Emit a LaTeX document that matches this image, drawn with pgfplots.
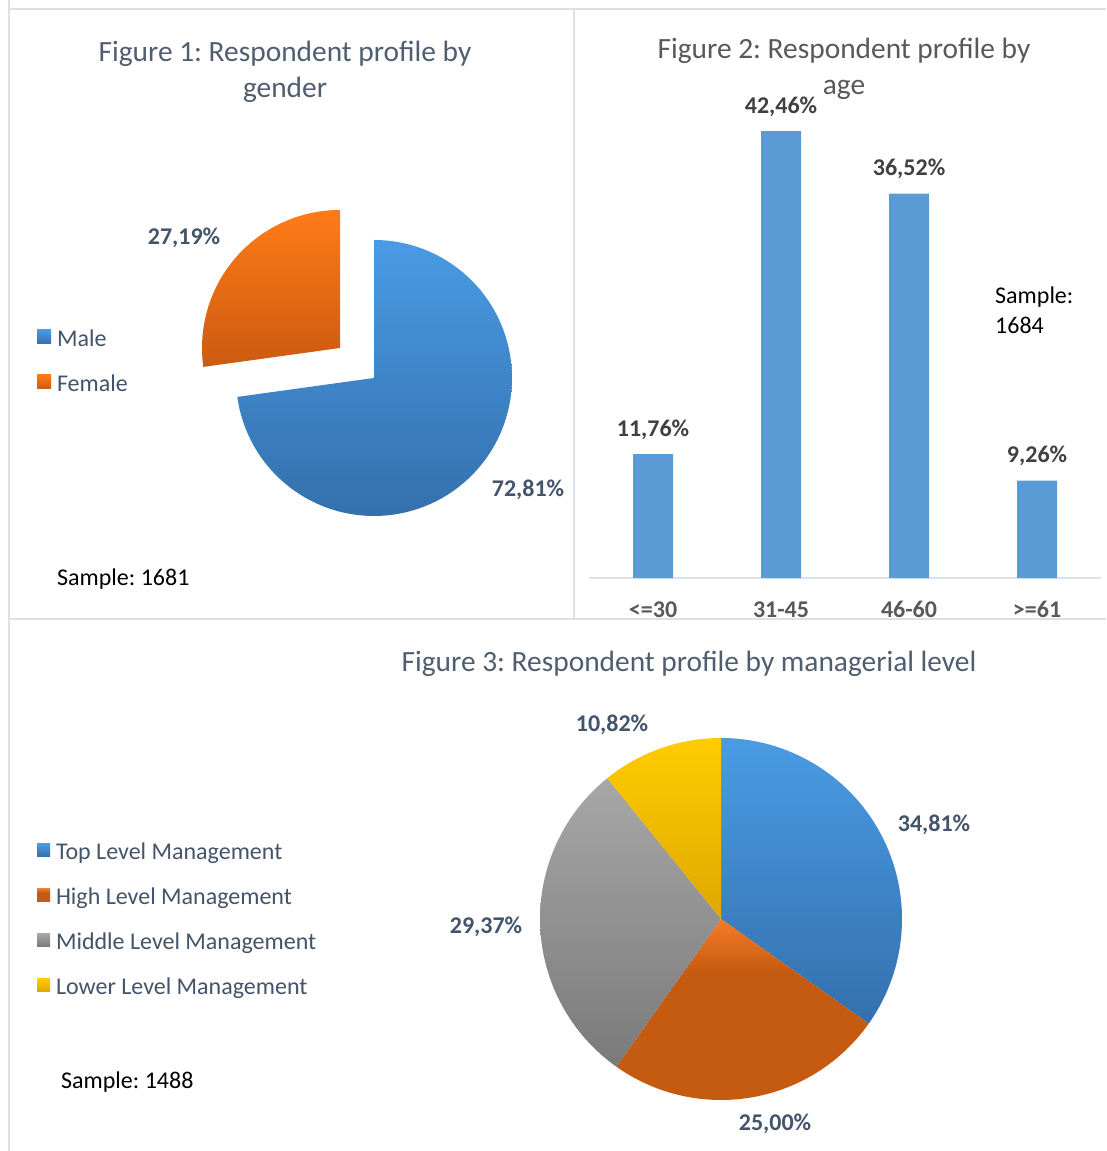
\documentclass[border=0pt]{standalone}
\usepackage{pgfplots}
\pgfplotsset{compat=1.18}
\usepackage{fontspec}
\setmainfont{Carlito}
\frenchspacing
\newcommand\fsz[1]{\fontsize{#1}{#1}\selectfont}
\definecolor{frame}{HTML}{DDE1E6}
\definecolor{ttlblue}{HTML}{505E70}
\definecolor{lblblue}{HTML}{44546A}
\definecolor{ttlgray}{HTML}{595959}
\definecolor{barlbl}{HTML}{404040}
\definecolor{barblue}{HTML}{5B9BD5}
\definecolor{blueT}{HTML}{499BE4}
\definecolor{blueB}{HTML}{3470AD}
\definecolor{orT}{HTML}{FF7B17}
\definecolor{orB}{HTML}{CC5A10}
\definecolor{or3T}{HTML}{F47C26}
\definecolor{or3M}{HTML}{C55A11}
\definecolor{grT}{HTML}{A7A7A7}
\definecolor{grB}{HTML}{7A7A7A}
\definecolor{yeT}{HTML}{FFCC00}
\definecolor{yeB}{HTML}{E0A700}
\pgfdeclareverticalshading{orsh}{100bp}{color(0bp)=(or3M); color(25bp)=(or3M); color(60bp)=(or3M); color(75bp)=(or3T); color(100bp)=(or3T)}
\begin{document}
\begin{tikzpicture}[x=1pt,y=1pt]
\path[use as bounding box, fill=white] (0,0) rectangle (1106,1151);
% frames
\draw[frame, line width=2pt] (9,1151) -- (9,1142) -- (1106,1142);
\draw[frame, line width=2pt] (574,1142) -- (574,532);
\draw[frame, line width=2pt] (9,532) -- (1106,532);
\draw[frame, line width=2pt] (9,1142) -- (9,0);

% ---------- Figure 1: pie by gender ----------
\begin{axis}[at={(0,0)}, anchor=south west, scale only axis,
  width=1106pt, height=1151pt, xmin=0, xmax=1106, ymin=0, ymax=1151,
  hide axis, clip=false,
  legend cell align=left,
  legend style={at={(axis cs:37,822.5)}, anchor=north west, draw=none, fill=none,
    inner sep=0pt, outer sep=0pt, row sep=20.75pt, font=\fsz{24},
    text=lblblue, nodes={inner sep=0pt, text height=18pt, text depth=6pt},
    /tikz/every odd column/.append style={column sep=6pt}},
  legend image code/.code={\path[#1] (0pt,-3.5pt) rectangle (14pt,10.5pt);}]
\addplot[draw=none, top color=blueT, bottom color=blueB, domain=-172.116:90, samples=150]
  ({374+138*cos(x)}, {773+138*sin(x)}) -- (axis cs:374,773) -- cycle;
\addlegendentry{Male}
\addplot[draw=none, top color=orT, bottom color=orB, domain=90:187.884, samples=80]
  ({340+138*cos(x)}, {803+138*sin(x)}) -- (axis cs:340,803) -- cycle;
\addlegendentry{Female}
\end{axis}
\node[anchor=base, text=lblblue, font=\bfseries\fsz{24}, inner sep=0pt] at (184,906) {27,19\%};
\node[anchor=base, text=lblblue, font=\bfseries\fsz{24}, inner sep=0pt] at (528,654) {72,81\%};
\node[anchor=base, text=ttlblue, font=\fsz{29.4}, inner sep=0pt] at (285,1089) {Figure 1: Respondent profile by};
\node[anchor=base, text=ttlblue, font=\fsz{29.4}, inner sep=0pt] at (285,1053) {gender};
\node[anchor=base west, text=black, font=\fsz{24}, inner sep=0pt] at (57,565) {Sample: 1681};

% ---------- Figure 2: bars by age ----------
% axis box spans the whole picture: x = (px-653)/128, y = (Y-573)/10.5276
\begin{axis}[at={(0,0)}, anchor=south west, scale only axis,
  width=1106pt, height=1151pt,
  xmin=-5.1015625, xmax=3.5390625, ymin=-54.4283, ymax=54.9033,
  hide axis, clip=false,
  ybar, bar width=40pt,
  /pgf/number format/assume math mode=true,
  nodes near coords={\pgfmathprintnumber[fixed,fixed zerofill,precision=2,use comma]{\pgfplotspointmeta}\%},
  every node near coord/.append style={anchor=base, yshift=18pt, font=\bfseries\fsz{24}, text=barlbl, inner sep=0pt}]
\draw[frame, line width=2pt] (axis cs:-0.5,0) -- (axis cs:3.5,0);
\addplot[fill=barblue, draw=none] coordinates {(0,11.76) (1,42.46) (2,36.52) (3,9.26)};
\foreach \i/\lab in {0/{<=30},1/{31-45},2/{46-60},3/{>=61}} {
  \edef\temp{\noexpand\node[anchor=base, yshift=-39pt, font=\noexpand\bfseries\noexpand\fsz{24}, text=ttlgray, inner sep=0pt] at (axis cs:\i,0) {\lab};}
  \temp
}
\end{axis}
\node[anchor=base, text=ttlgray, font=\fsz{29.4}, inner sep=0pt] at (844,1092) {Figure 2: Respondent profile by};
\node[anchor=base, text=ttlgray, font=\fsz{29.4}, inner sep=0pt] at (844,1056) {age};
\node[anchor=base west, text=black, font=\fsz{24}, inner sep=0pt] at (995,847) {Sample:};
\node[anchor=base west, text=black, font=\fsz{24}, inner sep=0pt] at (995,817) {1684};

% ---------- Figure 3: pie by managerial level ----------
\begin{axis}[at={(0,0)}, anchor=south west, scale only axis,
  width=1106pt, height=1151pt, xmin=0, xmax=1106, ymin=0, ymax=1151,
  hide axis, clip=false,
  legend cell align=left,
  legend style={at={(axis cs:37,309.5)}, anchor=north west, draw=none, fill=none,
    inner sep=0pt, outer sep=0pt, row sep=21pt, font=\fsz{24},
    text=lblblue, nodes={inner sep=0pt, text height=18pt, text depth=6pt},
    /tikz/every odd column/.append style={column sep=6pt}},
  legend image code/.code={\path[#1] (0pt,-3pt) rectangle (13pt,10pt);}]
\addplot[draw=none, top color=blueT, bottom color=blueB, domain=-35.316:90, samples=120]
  ({721+181*cos(x)}, {232+181*sin(x)}) -- (axis cs:721,232) -- cycle;
\addlegendentry{Top Level Management}
\addplot[draw=none, shading=orsh, domain=-125.316:-35.316, samples=100]
  ({721+181*cos(x)}, {232+181*sin(x)}) -- (axis cs:721,232) -- cycle;
\addlegendentry{High Level Management}
\addplot[draw=none, top color=grT, bottom color=grB, domain=-231.048:-125.316, samples=110]
  ({721+181*cos(x)}, {232+181*sin(x)}) -- (axis cs:721,232) -- cycle;
\addlegendentry{Middle Level Management}
\addplot[draw=none, top color=yeT, bottom color=yeB, domain=-270:-231.048, samples=50]
  ({721+181*cos(x)}, {232+181*sin(x)}) -- (axis cs:721,232) -- cycle;
\addlegendentry{Lower Level Management}
\end{axis}
\node[anchor=base, text=lblblue, font=\bfseries\fsz{24}, inner sep=0pt] at (612,419) {10,82\%};
\node[anchor=base, text=lblblue, font=\bfseries\fsz{24}, inner sep=0pt] at (934,319) {34,81\%};
\node[anchor=base, text=lblblue, font=\bfseries\fsz{24}, inner sep=0pt] at (486,217) {29,37\%};
\node[anchor=base, text=lblblue, font=\bfseries\fsz{24}, inner sep=0pt] at (775,20) {25,00\%};
\node[anchor=base, text=ttlblue, font=\fsz{29.4}, inner sep=0pt] at (689,479) {Figure 3: Respondent profile by managerial level};
\node[anchor=base west, text=black, font=\fsz{24}, inner sep=0pt] at (61,62) {Sample: 1488};
\end{tikzpicture}
\end{document}
